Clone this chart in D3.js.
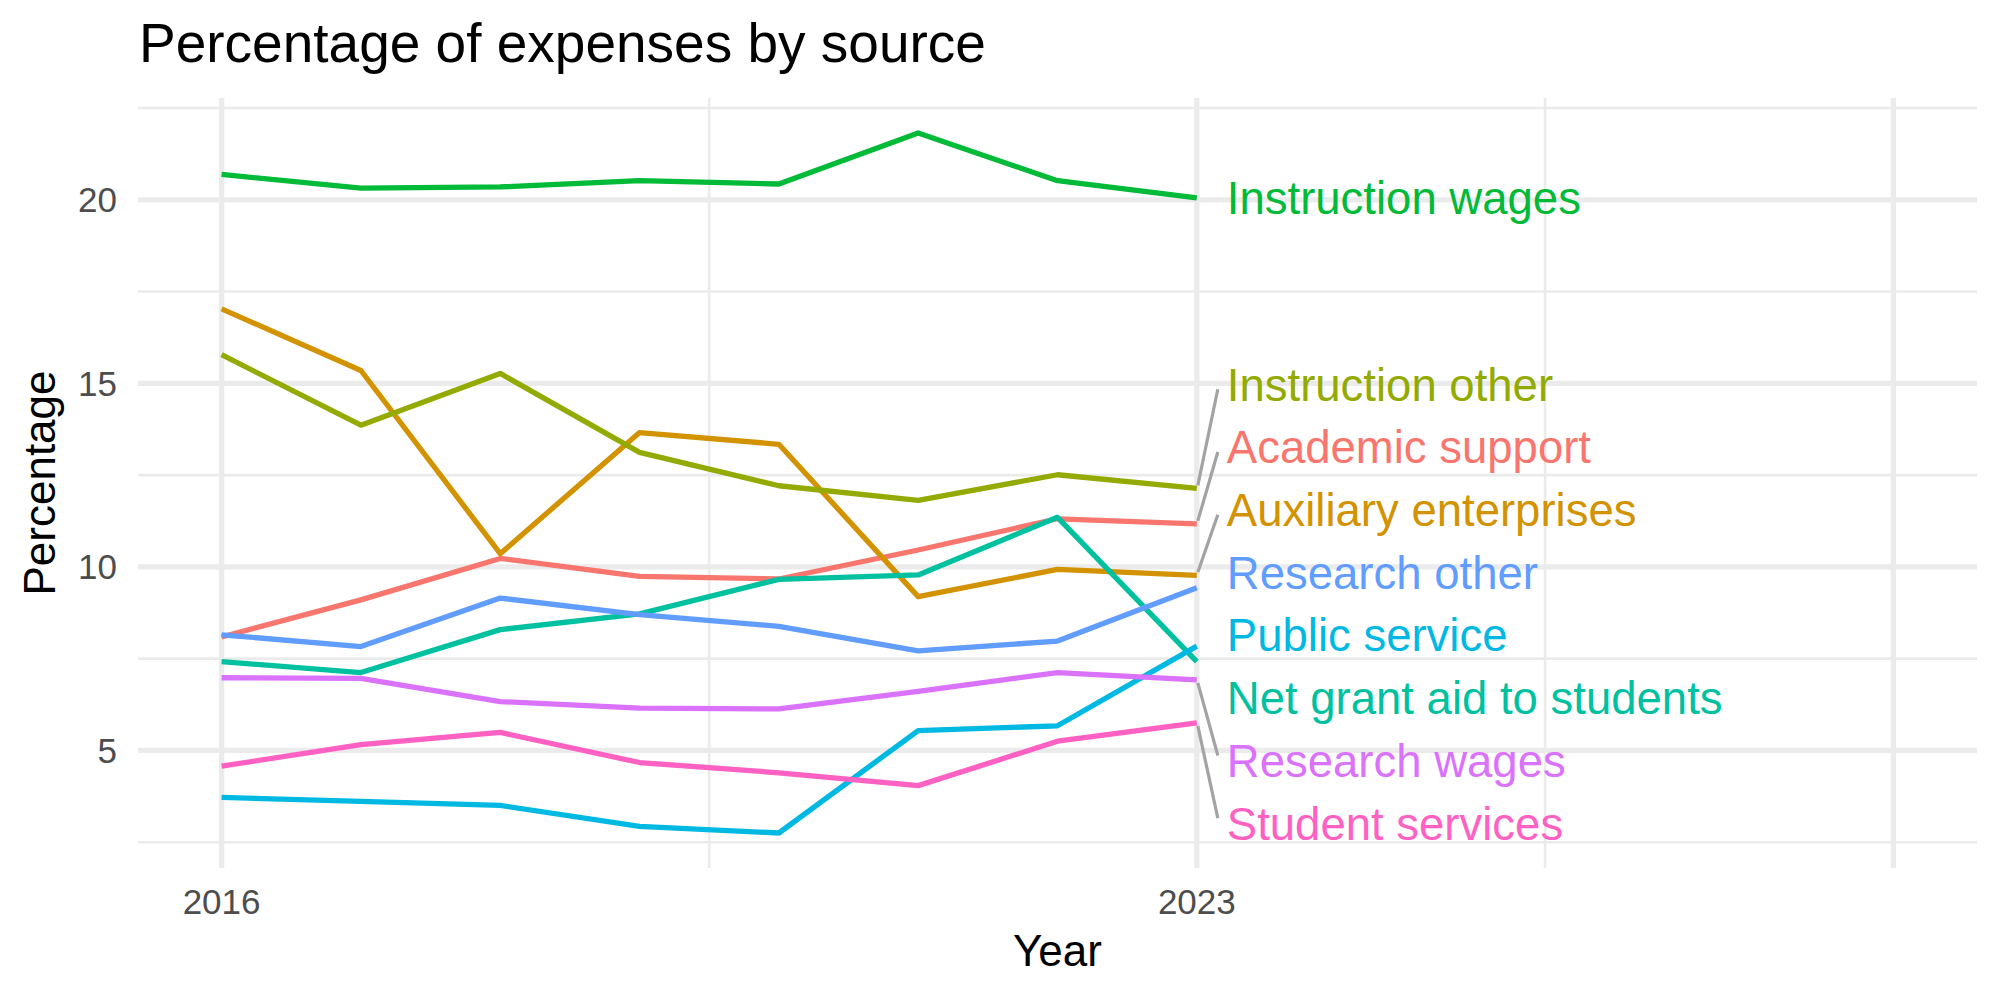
<!DOCTYPE html>
<html>
<head>
<meta charset="utf-8">
<title>Percentage of expenses by source</title>
<script src="https://cdn.jsdelivr.net/npm/d3@7"></script>
<style>
    html, body { margin: 0; padding: 0; background: #ffffff; }
    svg { display: block; font-family: "Liberation Sans", Arial, Helvetica, sans-serif; }
    .grid-major { stroke: #ebebeb; stroke-width: 5.3; }
    .grid-minor { stroke: #ebebeb; stroke-width: 2.6; }
    .tick-label { fill: #4d4d4d; font-size: 35px; }
    .axis-title { fill: #000000; font-size: 44px; }
    .series-line { fill: none; stroke-width: 5.3; stroke-linejoin: round; }
    .label-segment { stroke: #a3a3a3; stroke-width: 3.2; }
    .series-label { font-size: 45.5px; }
</style>
</head>
<body>
<div id="chart"></div>
<script>
// Dati (percentuale delle spese per fonte)
const years = [2016, 2017, 2018, 2019, 2020, 2021, 2022, 2023];

const categories = [
    "Academic support",
    "Auxiliary enterprises",
    "Instruction other",
    "Instruction wages",
    "Net grant aid to students",
    "Public service",
    "Research other",
    "Research wages",
    "Student services",
];

const academicSupport      = [8.09, 9.10, 10.23, 9.74, 9.67, 10.46, 11.31, 11.17];
const auxiliaryEnterprises = [17.03, 15.35, 10.36, 13.66, 13.34, 9.19, 9.93, 9.77];
const instructionOther     = [15.78, 13.86, 15.27, 13.12, 12.21, 11.81, 12.51, 12.14];
const instructionWages     = [20.69, 20.32, 20.35, 20.52, 20.43, 21.82, 20.52, 20.05];
const netGrantAid          = [7.42, 7.12, 8.29, 8.72, 9.66, 9.78, 11.35, 7.42];
const publicService        = [3.72, 3.61, 3.50, 2.93, 2.75, 5.54, 5.67, 7.84];
const researchOther        = [8.15, 7.83, 9.15, 8.70, 8.38, 7.71, 7.98, 9.43];
const researchWages        = [6.98, 6.96, 6.33, 6.15, 6.13, 6.61, 7.12, 6.92];
const studentServices      = [4.57, 5.16, 5.49, 4.67, 4.39, 4.04, 5.25, 5.75];

const seriesValues = [
    academicSupport, auxiliaryEnterprises, instructionOther, instructionWages,
    netGrantAid, publicService, researchOther, researchWages, studentServices,
];

// Palette hue di ggplot per 9 gruppi
const colors = ["#F8766D", "#D39200", "#93AA00", "#00BA38", "#00C19F",
                "#00B9E3", "#619CFF", "#DB72FB", "#FF61C3"];

// Assi: limiti x estesi a destra per fare spazio alle etichette
const xLimits = [2016, 2028];
const xMajorBreaks = [2016, 2023, 2028];
const xMinorBreaks = [2019.5, 2025.5];
const xTickLabels = ["2016", "2023", ""];
const yMajorBreaks = [5, 10, 15, 20];
const yMinorBreaks = [2.5, 7.5, 12.5, 17.5, 22.5];

const titleText = "Percentage of expenses by source";
const xTitle = "Year";
const yTitle = "Percentage";

(function () {
    const WIDTH = 2000;
    const HEIGHT = 1000;
    const panel = { left: 138, right: 1977, top: 98, bottom: 868 };

    const series = categories.map((name, i) => ({
        name,
        color: colors[i],
        points: years.map((yr, j) => ({ year: yr, value: seriesValues[i][j] })),
    }));

    // espansione del 5% come in ggplot
    const expand = (lo, hi) => { const d = (hi - lo) * 0.05; return [lo - d, hi + d]; };
    const allValues = seriesValues.flat();

    const x = d3.scaleLinear()
        .domain(expand(xLimits[0], xLimits[1]))
        .range([panel.left, panel.right]);
    const y = d3.scaleLinear()
        .domain(expand(d3.min(allValues), d3.max(allValues)))
        .range([panel.bottom, panel.top]);

    const svg = d3.select("#chart")
        .append("svg")
        .attr("width", WIDTH)
        .attr("height", HEIGHT)
        .attr("viewBox", `0 0 ${WIDTH} ${HEIGHT}`);

    // Griglia
    const grid = svg.append("g").attr("class", "grid");
    grid.selectAll("line.gy-minor").data(yMinorBreaks).enter().append("line")
        .attr("class", "grid-minor")
        .attr("x1", panel.left).attr("x2", panel.right)
        .attr("y1", d => y(d)).attr("y2", d => y(d));
    grid.selectAll("line.gx-minor").data(xMinorBreaks).enter().append("line")
        .attr("class", "grid-minor")
        .attr("y1", panel.top).attr("y2", panel.bottom)
        .attr("x1", d => x(d)).attr("x2", d => x(d));
    grid.selectAll("line.gy-major").data(yMajorBreaks).enter().append("line")
        .attr("class", "grid-major")
        .attr("x1", panel.left).attr("x2", panel.right)
        .attr("y1", d => y(d)).attr("y2", d => y(d));
    grid.selectAll("line.gx-major").data(xMajorBreaks).enter().append("line")
        .attr("class", "grid-major")
        .attr("y1", panel.top).attr("y2", panel.bottom)
        .attr("x1", d => x(d)).attr("x2", d => x(d));

    // Etichette degli assi
    svg.append("g").selectAll("text").data(yMajorBreaks).enter().append("text")
        .attr("class", "tick-label")
        .attr("x", panel.left - 21)
        .attr("y", d => y(d))
        .attr("dy", "0.36em")
        .attr("text-anchor", "end")
        .text(d => d);

    svg.append("g").selectAll("text").data(xMajorBreaks).enter().append("text")
        .attr("class", "tick-label")
        .attr("x", d => x(d))
        .attr("y", panel.bottom + 46)
        .attr("text-anchor", "middle")
        .text((d, i) => xTickLabels[i]);

    svg.append("text")
        .attr("class", "axis-title")
        .attr("x", (panel.left + panel.right) / 2)
        .attr("y", 966)
        .attr("text-anchor", "middle")
        .text(xTitle);

    svg.append("text")
        .attr("class", "axis-title")
        .attr("transform", `translate(55, ${(panel.top + panel.bottom) / 2}) rotate(-90)`)
        .attr("text-anchor", "middle")
        .text(yTitle);

    svg.append("text")
        .attr("x", panel.left + 1)
        .attr("y", 62)
        .attr("font-size", 55)
        .attr("fill", "#000")
        .text(titleText);

    // Linee
    const line = d3.line()
        .x(d => x(d.year))
        .y(d => y(d.value));

    svg.append("g").selectAll("path").data(series).enter().append("path")
        .attr("class", "series-line")
        .attr("stroke", d => d.color)
        .attr("d", d => line(d.points));

    // Etichette a destra, respinte in verticale (stile ggrepel semplificato)
    const lastYear = years[years.length - 1];
    const labelGap = 62.7;
    const clusterBias = -7; // il repel di ggrepel spinge il gruppo un po' verso l'alto
    const labels = series.map(s => {
        const last = s.points[s.points.length - 1];
        return { name: s.name, color: s.color, py: y(last.value), cy: y(last.value) };
    }).sort((a, b) => a.py - b.py);

    // raggruppa le etichette sovrapposte e centra ogni gruppo sulla media
    let clusters = labels.map(l => ({ items: [l], mean: l.py }));
    let merged = true;
    while (merged) {
        merged = false;
        for (let i = 0; i < clusters.length - 1; i++) {
            const a = clusters[i], b = clusters[i + 1];
            const aBottom = a.mean + (a.items.length - 1) * labelGap / 2;
            const bTop = b.mean - (b.items.length - 1) * labelGap / 2;
            if (bTop - aBottom < labelGap) {
                const items = a.items.concat(b.items);
                clusters.splice(i, 2, { items, mean: d3.mean(items, d => d.py) });
                merged = true;
                break;
            }
        }
    }
    clusters.forEach(c => {
        const bias = c.items.length > 1 ? clusterBias : 0;
        const start = c.mean + bias - (c.items.length - 1) * labelGap / 2;
        c.items.forEach((l, k) => { l.cy = start + k * labelGap; });
    });

    const labelX = x(lastYear) + 30;
    const px = x(lastYear);

    svg.append("g").selectAll("line")
        .data(labels.filter(l => Math.abs(l.cy - l.py) > 50))
        .enter().append("line")
        .attr("class", "label-segment")
        .attr("x1", px + 1)
        .attr("y1", l => l.py + Math.sign(l.cy - l.py) * 3)
        .attr("x2", labelX - 9)
        .attr("y2", l => l.cy - Math.sign(l.cy - l.py) * 5);

    svg.append("g").selectAll("text").data(labels).enter().append("text")
        .attr("class", "series-label")
        .attr("x", labelX)
        .attr("y", l => l.cy)
        .attr("dy", "0.36em")
        .attr("fill", l => l.color)
        .text(l => l.name);
})();
</script>
</body>
</html>
